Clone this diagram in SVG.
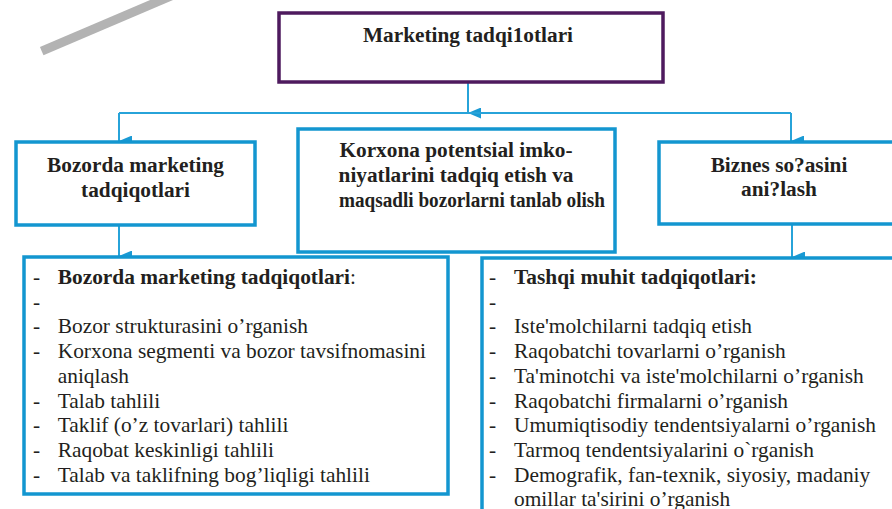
<svg xmlns="http://www.w3.org/2000/svg" width="892" height="509" viewBox="0 0 892 509" font-family="Liberation Serif, Times New Roman, serif">
  <defs>
    <marker id="arrow" markerWidth="11" markerHeight="13" refX="5.5" refY="13" orient="auto-start-reverse" markerUnits="userSpaceOnUse" viewBox="0 0 11 13">
      <path d="M0,0 L11,0 L5.5,13 Z" fill="#1a9ad4"/>
    </marker>
    <style>
      .title { font-weight: bold; font-size: 21.3px; fill: #231f20; text-anchor: middle; }
      .item { font-size: 21.4px; fill: #231f20; }
      .bold { font-weight: bold; }
      .box { fill: #ffffff; stroke: #1396d0; stroke-width: 3.5; }
      .root { fill: #ffffff; stroke: #4e1a5e; stroke-width: 3.5; }
      .conn { fill: none; stroke: #27a3d9; stroke-width: 2; }
    </style>
  </defs>
  <rect width="892" height="509" fill="#ffffff"/>

  <!-- decorative grey stripe -->
  <line x1="41.7" y1="51.2" x2="185" y2="-10" stroke="#b3b3b3" stroke-width="9"/>

  <!-- connectors -->
  <g id="connectors">
    <line class="conn" x1="468" y1="82" x2="468" y2="113" marker-end="url(#arrow)"/>
    <polyline class="conn" points="119,113 791,113"/>
    <line class="conn" x1="119" y1="113" x2="119" y2="141" marker-end="url(#arrow)"/>
    <line class="conn" x1="791" y1="113" x2="791" y2="141" marker-end="url(#arrow)"/>
    <line class="conn" x1="119" y1="226" x2="119" y2="256" marker-end="url(#arrow)"/>
    <line class="conn" x1="792" y1="225" x2="792" y2="257" marker-end="url(#arrow)"/>
  </g>

  <g id="root" font-family="Liberation Serif, serif">
    <rect class="root" x="279" y="13" width="384" height="69"/>
    <text class="title" x="468" y="42">Marketing tadqi1otlari</text>
  </g>

  <g id="market-research" font-family="Liberation Serif, serif">
    <rect class="box" x="16" y="142" width="239" height="83"/>
    <text class="title" x="135.5" y="172">Bozorda marketing</text>
    <text class="title" x="135.5" y="197">tadqiqotlari</text>
  </g>

  <g id="potential" font-family="Liberation Serif, serif">
    <rect class="box" x="298" y="129" width="317" height="123"/>
    <text class="title" x="456" y="157">Korxona potentsial imko-</text>
    <text class="title" x="456" y="182">niyatlarini tadqiq etish va</text>
    <text class="title" x="472" y="207" textLength="266" lengthAdjust="spacingAndGlyphs">maqsadli bozorlarni tanlab olish</text>
  </g>

  <g id="business" font-family="Liberation Serif, serif">
    <rect class="box" x="659" y="142" width="250" height="82"/>
    <text class="title" x="779" y="172">Biznes so?asini</text>
    <text class="title" x="779" y="195.5">ani?lash</text>
  </g>

  <g id="market-list" font-family="Liberation Serif, serif">
    <rect class="box" x="24" y="257" width="424" height="237"/>
    <g class="item">
      <text x="33" y="284">-</text>
      <text x="57.7" y="284"><tspan class="bold">Bozorda marketing tadqiqotlari</tspan>:</text>
      <text x="33" y="308.7">-</text>
      <text x="33" y="333.4">-</text>
      <text x="57.7" y="333.4">Bozor strukturasini o’rganish</text>
      <text x="33" y="358.1">-</text>
      <text x="57.7" y="358.1">Korxona segmenti va bozor tavsifnomasini</text>
      <text x="57.7" y="382.8">aniqlash</text>
      <text x="33" y="407.5">-</text>
      <text x="57.7" y="407.5">Talab tahlili</text>
      <text x="33" y="432.2">-</text>
      <text x="57.7" y="432.2">Taklif (o’z tovarlari) tahlili</text>
      <text x="33" y="456.9">-</text>
      <text x="57.7" y="456.9">Raqobat keskinligi tahlili</text>
      <text x="33" y="481.6">-</text>
      <text x="57.7" y="481.6">Talab va taklifning bog’liqligi tahlili</text>
    </g>
  </g>

  <g id="environment-list" font-family="Liberation Serif, serif">
    <rect class="box" x="482" y="258" width="430" height="270"/>
    <g class="item">
      <text x="489" y="284">-</text>
      <text x="514" y="284" class="bold">Tashqi muhit tadqiqotlari:</text>
      <text x="489" y="308.7">-</text>
      <text x="489" y="333.4">-</text>
      <text x="514" y="333.4">Iste'molchilarni tadqiq etish</text>
      <text x="489" y="358.1">-</text>
      <text x="514" y="358.1">Raqobatchi tovarlarni o’rganish</text>
      <text x="489" y="382.8">-</text>
      <text x="514" y="382.8">Ta'minotchi va iste'molchilarni o’rganish</text>
      <text x="489" y="407.5">-</text>
      <text x="514" y="407.5">Raqobatchi firmalarni o’rganish</text>
      <text x="489" y="432.2">-</text>
      <text x="514" y="432.2">Umumiqtisodiy tendentsiyalarni o’rganish</text>
      <text x="489" y="456.9">-</text>
      <text x="514" y="456.9">Tarmoq tendentsiyalarini o`rganish</text>
      <text x="489" y="481.6">-</text>
      <text x="514" y="481.6">Demografik, fan-texnik, siyosiy, madaniy</text>
      <text x="514" y="506.3">omillar ta'sirini o’rganish</text>
    </g>
  </g>
</svg>
